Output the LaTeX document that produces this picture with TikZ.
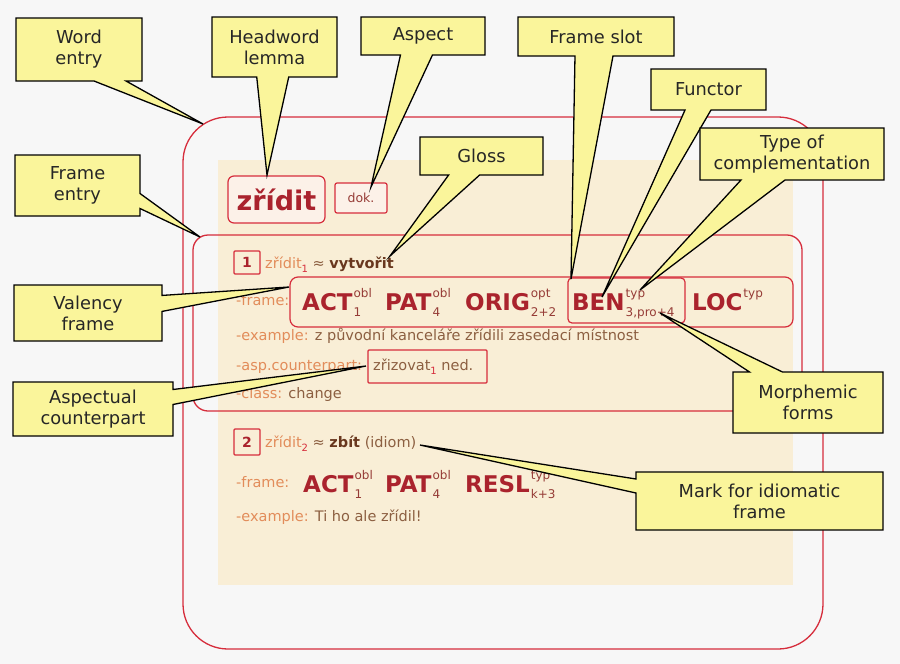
\documentclass[tikz,border=0pt]{standalone}
\usepackage{fontspec}
\setmainfont{DejaVu Sans}
\usetikzlibrary{shapes.callouts}
\definecolor{bgc}{RGB}{247,247,247}
\definecolor{beige}{RGB}{249,238,214}
\definecolor{lred}{RGB}{214,45,60}
\definecolor{dred}{RGB}{170,35,45}
\definecolor{lbl}{RGB}{226,140,90}
\definecolor{val}{RGB}{140,95,65}
\definecolor{dbr}{RGB}{105,55,30}
\definecolor{cyel}{RGB}{250,245,155}
\definecolor{hwfill}{RGB}{252,241,232}
\definecolor{ssc}{RGB}{150,60,55}
\newcommand\lsub[1]{\raisebox{-4pt}{\fontsize{10}{10}\selectfont\color{lred}#1}}
\newcommand\fslot[3]{{\fontsize{23}{23}\selectfont\bfseries\color{dred}#1}\hspace{1pt}\raisebox{-6pt}{\fontsize{12}{19}\selectfont\color{ssc}\begin{tabular}[b]{@{}l@{}}#2\\\mbox{}#3\end{tabular}}}
\begin{document}
\begin{tikzpicture}[x=1pt,y=-1pt,
  outerbox/.style={draw=lred, line width=1.3pt, rectangle, inner sep=0pt},
  rbox/.style={draw=lred, line width=1.2pt, rounded corners=5pt, inner sep=0pt},
  txt/.style={inner sep=0pt, anchor=base west, font=\fontsize{14.5}{14.5}\selectfont},
  slot/.style={inner sep=0pt, anchor=base west},
  callout/.style={rectangle callout, draw=black, line width=1.3pt, fill=cyel, align=center,
    font=\fontsize{17.8}{21}\selectfont, inner sep=1pt, text=black!85}]
\useasboundingbox (0,0) rectangle (900,664);
\fill[bgc] (0,0) rectangle (900,664);
\fill[beige] (218,160) rectangle (793,585);
% word entry and frame entry boxes
\node[outerbox, rounded corners=45pt, minimum width=640pt, minimum height=532pt] (wordentry) at (503,383) {};
\node[outerbox, rounded corners=15pt, minimum width=609pt, minimum height=176pt] (frameentry) at (497.5,323) {};
% headword
\node[rbox, rounded corners=6pt, fill=hwfill, minimum width=97pt, minimum height=47pt,
  font=\bfseries\fontsize{27}{27}\selectfont, text=dred] (hw) at (276.5,199.5) {zřídit};
\node[rbox, rounded corners=2pt, fill=hwfill, minimum width=52pt, minimum height=30pt,
  font=\fontsize{12.5}{12.5}\selectfont, text=ssc] (dok) at (361,198) {dok.};
% frame 1
\node[rbox, rounded corners=1pt, minimum width=26pt, minimum height=23pt,
  font=\bfseries\fontsize{14}{14}\selectfont, text=dred] (n1) at (247,262.5) {1};
\node[txt] (r1) at (265,268) {\color{lbl}zřídit\lsub{1}\ \color{val}≈ \textbf{\color{dbr}vytvořit}};
\node[txt, text=lbl] (fl1) at (236,305) {-frame:};
\node[rbox, rounded corners=8pt, minimum width=503pt, minimum height=50pt] (vf1) at (541.5,302) {};
\node[rbox, rounded corners=4pt, minimum width=117pt, minimum height=45pt] (benbox) at (626.5,300.5) {};
\node[slot] (act1) at (302,310) {\fslot{ACT}{obl}{1}};
\node[slot] (pat1) at (385,310) {\fslot{PAT}{obl}{4}};
\node[slot] (orig1) at (465,310) {\fslot{ORIG}{opt}{2+2}};
\node[slot] (ben1) at (572,310) {\fslot{BEN}{typ}{3,pro+4}};
\node[slot] (loc1) at (692,310) {\fslot{LOC}{typ}{}};
\node[txt] (ex1) at (236,340) {\color{lbl}-example: \color{val}z původní kanceláře zřídili zasedací místnost};
\node[txt, text=lbl] (asp1) at (236,370) {-asp.counterpart:};
\node[rbox, rounded corners=1pt, minimum width=119pt, minimum height=33pt] (cpbox) at (427.5,366.5) {};
\node[txt, text=val] (cp) at (373,370) {zřizovat\lsub{1}\ ned.};
\node[txt] (cl1) at (236,398) {\color{lbl}-class: \color{val}change};
% frame 2
\node[rbox, rounded corners=1pt, minimum width=26pt, minimum height=26pt,
  font=\bfseries\fontsize{14}{14}\selectfont, text=dred] (n2) at (247,442) {2};
\node[txt] (r2) at (265,447) {\color{lbl}zřídit\lsub{2}\ \color{val}≈ \textbf{\color{dbr}zbít} \color{val}(idiom)};
\node[txt, text=lbl] (fl2) at (236,487) {-frame:};
\node[slot] (act2) at (303,492) {\fslot{ACT}{obl}{1}};
\node[slot] (pat2) at (385,492) {\fslot{PAT}{obl}{4}};
\node[slot] (resl2) at (465,492) {\fslot{RESL}{typ}{k+3}};
\node[txt] (ex2) at (236,521) {\color{lbl}-example: \color{val}Ti ho ale zřídil!};
% pointer tips
\coordinate (tWord) at (203,124);
\coordinate (tHead) at (267,175);
\coordinate (tAsp) at (371,187);
\coordinate (tSlot) at (571,279);
\coordinate (tFunc) at (602,297);
\coordinate (tType) at (640,290);
\coordinate (tGloss) at (390,256);
\coordinate (tFrame) at (200,237);
\coordinate (tVal) at (289,287);
\coordinate (tAspc) at (366,366);
\coordinate (tMorph) at (660,313);
\coordinate (tMark) at (420,445);
% callouts
\node[callout, minimum width=126pt, minimum height=63pt, callout absolute pointer={(tWord)}, callout pointer width=32pt] (cWord) at (79,49.5) {Word\\entry};
\node[callout, minimum width=125pt, minimum height=60pt, callout absolute pointer={(tHead)}, callout pointer width=32pt] (cHead) at (274.5,47) {Headword\\lemma};
\node[callout, minimum width=124pt, minimum height=38pt, callout absolute pointer={(tAsp)}, callout pointer width=32pt] (cAsp) at (423,36) {Aspect};
\node[callout, minimum width=156pt, minimum height=39pt, callout absolute pointer={(tSlot)}, callout pointer width=38pt] (cSlot) at (596,36.5) {Frame slot};
\node[callout, minimum width=115pt, minimum height=41pt, callout absolute pointer={(tFunc)}, callout pointer width=26pt] (cFunc) at (708.5,89.5) {Functor};
\node[callout, minimum width=184pt, minimum height=52pt, callout absolute pointer={(tType)}, callout pointer width=44pt] (cType) at (792,154) {Type of\\complementation};
\node[callout, minimum width=123pt, minimum height=38pt, callout absolute pointer={(tGloss)}, callout pointer width=31pt] (cGloss) at (481.5,156) {Gloss};
\node[callout, minimum width=125pt, minimum height=61pt, callout absolute pointer={(tFrame)}, callout pointer width=15pt] (cFrame) at (77.5,185.5) {Frame\\entry};
\node[callout, minimum width=148pt, minimum height=56pt, callout absolute pointer={(tVal)}, callout pointer width=16pt] (cVal) at (88,313) {Valency\\frame};
\node[callout, minimum width=160pt, minimum height=54pt, callout absolute pointer={(tAspc)}, callout pointer width=15pt] (cAspc) at (93,409) {Aspectual\\counterpart};
\node[callout, minimum width=150pt, minimum height=61pt, callout absolute pointer={(tMorph)}, callout pointer width=33pt] (cMorph) at (808,402.5) {Morphemic\\forms};
\node[callout, minimum width=247pt, minimum height=58pt, callout absolute pointer={(tMark)}, callout pointer width=14pt] (cMark) at (759.5,501) {Mark for idiomatic\\frame};
\end{tikzpicture}
\end{document}
